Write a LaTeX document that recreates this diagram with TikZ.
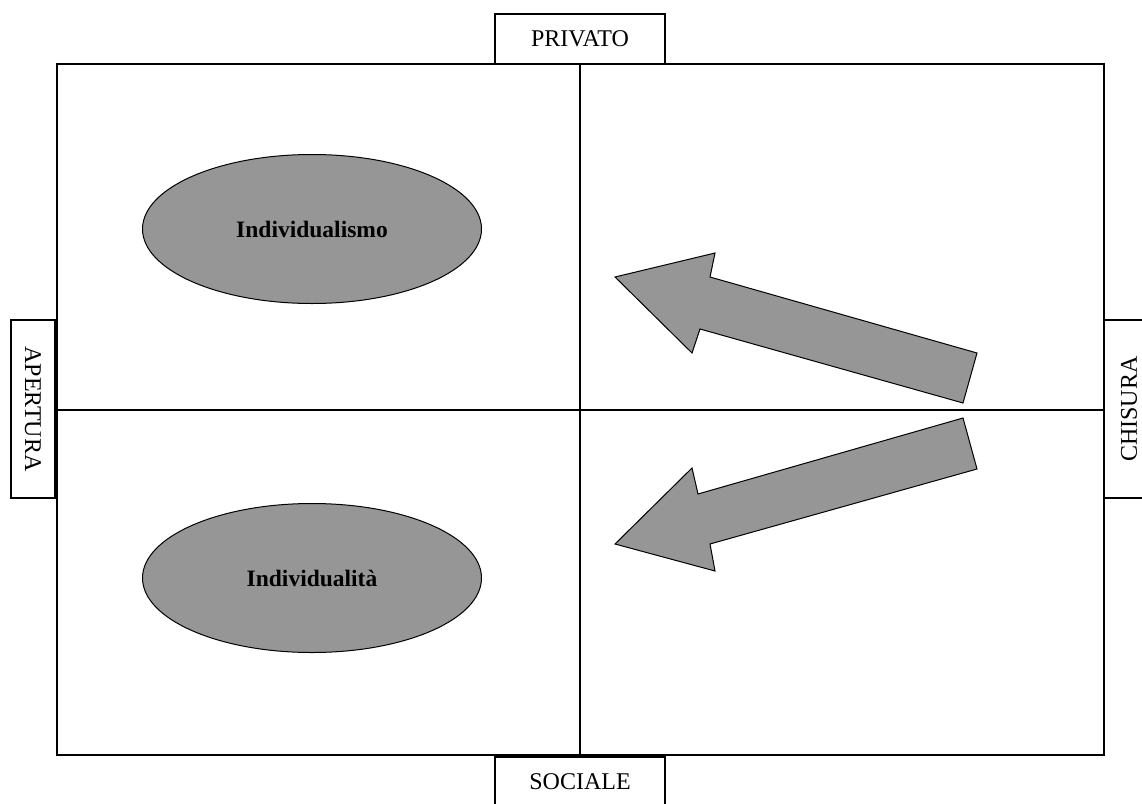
\documentclass[tikz,border=0pt]{standalone}
\usepackage{fontspec}
\setmainfont{Liberation Serif}
\usetikzlibrary{shapes.geometric}
\begin{document}
\begin{tikzpicture}[x=1pt,y=-1pt,
  frame/.style={draw=black,line width=1.2pt},
  labelbox/.style={draw=black,line width=1.2pt,fill=white,inner sep=0pt,font=\fontsize{24}{28}\selectfont},
  blob/.style={draw=black,line width=1pt,fill=gray60,ellipse,inner sep=0pt,minimum width=339pt,minimum height=149pt,font=\bfseries\fontsize{23.5}{27}\selectfont},
  bigarrow/.style={draw=black,line width=1pt,fill=gray60,line join=miter}]
\definecolor{gray60}{HTML}{969696}
\useasboundingbox (0,0) rectangle (1142,803);
\clip (0,0) rectangle (1142,803);
\fill[white] (0,0) rectangle (1142,803);
% main frame
\draw[frame] (57,64) rectangle (1104,755);
\coordinate (vt) at (580,64);
\coordinate (vb) at (580,755);
\coordinate (hl) at (57,410);
\coordinate (hr) at (1104,410);
\draw[frame] (vt) -- (vb);
\draw[frame] (hl) -- (hr);
% labels
\node[labelbox,minimum width=170pt,minimum height=50pt] (priv) at (580,39) {PRIVATO};
\node[labelbox,minimum width=170pt,minimum height=50pt] (soc) at (580,782) {SOCIALE};
\node[labelbox,minimum width=178pt,minimum height=44pt,rotate=-90] (ape) at (33,409) {APERTURA};
\node[labelbox,minimum width=178pt,minimum height=50pt,rotate=90] (chi) at (1129,409) {CHISURA};
% ellipses
\node[blob] (ind1) at (312,229) {Individualismo};
\node[blob] (ind2) at (312,578) {Individualità};
% arrows
\draw[bigarrow] (615,277) -- (715,253) -- (710,277) -- (977,353) -- (963,403) -- (700,329) -- (692,353) -- cycle;
\draw[bigarrow] (615,544) -- (692,468) -- (698,494) -- (963,418) -- (977,469) -- (710,544) -- (715,571) -- cycle;
\end{tikzpicture}
\end{document}
